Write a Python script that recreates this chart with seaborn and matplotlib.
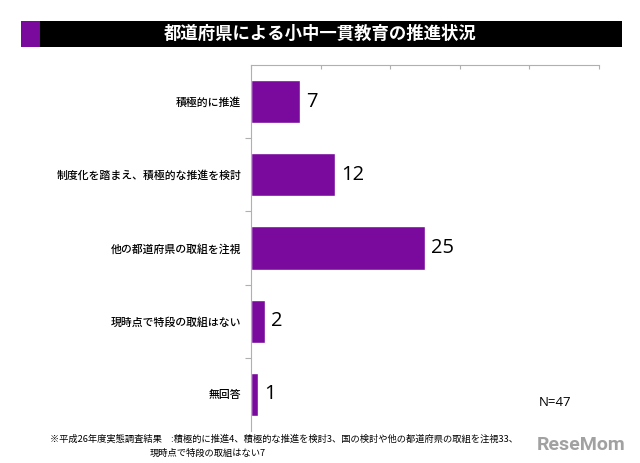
import matplotlib
matplotlib.use("Agg")
import matplotlib.pyplot as plt
import seaborn as sns
import pandas as pd
from matplotlib.patches import Rectangle

categories = ["積極的に推進", "制度化を踏まえ、積極的な推進を検討", "他の都道府県の取組を注視",
              "現時点で特段の取組はない", "無回答"]
values = [7, 12, 25, 2, 1]
title = "都道府県による小中一貫教育の推進状況"
note1 = "※平成26年度実態調査結果　:積極的に推進4、積極的な推進を検討3、国の検討や他の都道府県の取組を注視33、"
note2 = "現時点で特段の取組はない7"
x_ticks = [0, 10, 20, 30, 40, 50]

sns.set_theme(style="white")
plt.rcParams['font.family'] = ['Noto Sans CJK JP', 'DejaVu Sans']

df = pd.DataFrame({"cat": categories, "val": values})
fig = plt.figure(figsize=(6.4, 4.63), dpi=100)
ax = fig.add_axes([251/640, 1-431/463, 348/640, 366/463])
sns.barplot(data=df, x="val", y="cat", orient="h", color="#7A0A9E", saturation=1,
            width=0.59, ax=ax)
ax.set_xlim(0, 50)
ax.set_ylim(4.5, -0.5)
ax.xaxis.tick_top()
ax.set_xticks(x_ticks)
ax.set_xticklabels([""] * len(x_ticks))
ax.tick_params(axis="x", direction="in", length=3, color="#b0b0b0", width=0.8, top=True, bottom=False)
ax.set_yticks(range(len(categories)))
ax.set_yticklabels(categories, fontsize=7.8, color="black", fontweight="medium")
ax.set_yticks([i + 0.5 for i in range(len(categories) - 1)], minor=True)
ax.tick_params(axis="y", which="major", length=0, pad=7)
ax.tick_params(axis="y", which="minor", left=True, length=4, color="#b0b0b0", width=0.8)
ax.set_xlabel("")
ax.set_ylabel("")
for s in ["right", "bottom"]:
    ax.spines[s].set_visible(False)
for s in ["left", "top"]:
    ax.spines[s].set_color("#b0b0b0")
    ax.spines[s].set_linewidth(0.8)
for i, v in enumerate(values):
    ax.text(v + 0.9, i, str(v), va="center", ha="left", fontsize=14.5, fontweight="medium",
            color="black", family=["Open Sans", "DejaVu Sans"])

# title bar
fig.patches.append(Rectangle((21/640, 1-47/463), 601/640, 26/463, transform=fig.transFigure,
                             facecolor="black", edgecolor="none"))
fig.patches.append(Rectangle((21/640, 1-47/463), 19/640, 26/463, transform=fig.transFigure,
                             facecolor="#7A0A9E", edgecolor="none"))
fig.text(320/640, 1-34/463, title, color="white", fontsize=12.5, fontweight="bold",
         ha="center", va="center")

fig.text(555/640, 1-403/463, "N=47", fontsize=9.5, ha="center", va="center",
         color="black", family=["Open Sans", "DejaVu Sans"])
fig.text(50/640, 1-439/463, note1, fontsize=6.7, ha="left", va="center", color="black")
fig.text(150/640, 1-453/463, note2, fontsize=6.7, ha="left", va="center", color="black")
fig.text(625/640, 1-445/463, "ReseMom", fontsize=14, fontweight="bold", color="#8a8a8a",
         ha="right", va="center", alpha=0.8, family=["Roboto", "DejaVu Sans"])

fig.savefig("out.png", dpi=100)
